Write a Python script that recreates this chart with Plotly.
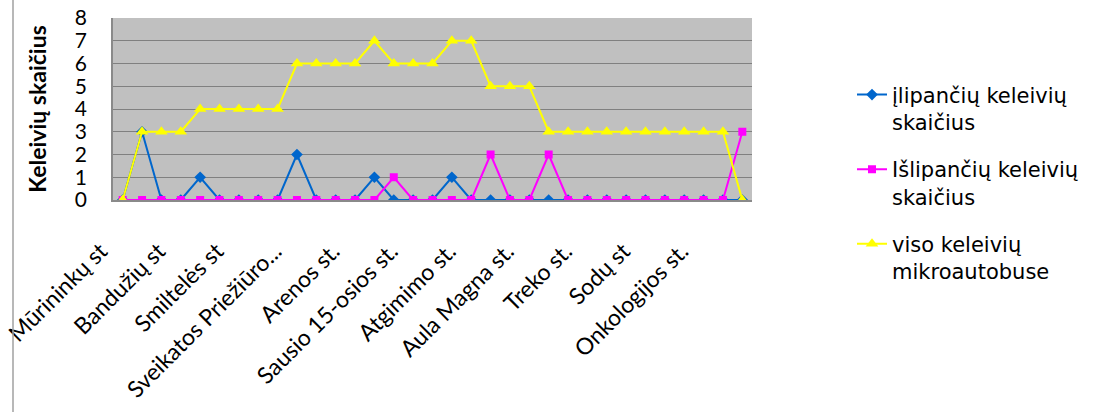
import plotly.graph_objects as go

# 33 stops along the route; only every 3rd stop is labelled on the axis
stop_index = list(range(1, 34))
stop_labels = ["Mūrininkų st", "Bandužių st", "Smiltelės st", "Sveikatos Priežiūro...",
               "Arenos st.", "Sausio 15-osios st.", "Atgimimo st.", "Aula Magna st.",
               "Treko st.", "Sodų st", "Onkologijos st."]
label_positions = stop_index[::3]

boarding = [0, 3, 0, 0, 1, 0, 0, 0, 0, 2, 0, 0, 0, 1, 0, 0, 0, 1, 0, 0, 0, 0, 0,
            0, 0, 0, 0, 0, 0, 0, 0, 0, 0]
alighting = [0, 0, 0, 0, 0, 0, 0, 0, 0, 0, 0, 0, 0, 0, 1, 0, 0, 0, 0, 2, 0, 0, 2,
             0, 0, 0, 0, 0, 0, 0, 0, 0, 3]
total = [0, 3, 3, 3, 4, 4, 4, 4, 4, 6, 6, 6, 6, 7, 6, 6, 6, 7, 7, 5, 5, 5, 3,
         3, 3, 3, 3, 3, 3, 3, 3, 3, 0]

names = ["įlipančių keleivių<br>skaičius", "Išlipančių keleivių<br>skaičius",
         "viso keleivių<br>mikroautobuse"]

FONT = "Lato, Open Sans, sans-serif"
LEG_FONT = "DejaVu Sans, sans-serif"

fig = go.Figure()
fig.add_trace(go.Scatter(x=stop_index, y=boarding, mode="lines+markers", name=names[0],
                         line=dict(color="#0066CC", width=2),
                         marker=dict(symbol="diamond", size=9, color="#0066CC"),
                         legendgroup="a"))
fig.add_trace(go.Scatter(x=stop_index, y=alighting, mode="lines+markers", name=names[1],
                         line=dict(color="#FF00FF", width=2),
                         marker=dict(symbol="square", size=8, color="#FF00FF"),
                         legendgroup="b"))
fig.add_trace(go.Scatter(x=stop_index, y=total, mode="lines+markers", name=names[2],
                         line=dict(color="#FFFF00", width=2),
                         marker=dict(symbol="triangle-up", size=11, color="#FFFF00"),
                         legendgroup="c"))

fig.update_layout(
    width=1101, height=412,
    margin=dict(l=113, r=349, t=18, b=212, autoexpand=False),
    paper_bgcolor="white",
    plot_bgcolor="#C0C0C0",
    font=dict(family=FONT, color="black", size=19),
    legend=dict(x=1.1565, y=0.69, xanchor="left", yanchor="top", valign="top",
                font=dict(size=21, family=LEG_FONT), tracegroupgap=17,
                bgcolor="rgba(0,0,0,0)", maxheight=400),
    xaxis=dict(range=[0.5, 33.5], tickmode="array", tickvals=label_positions,
               ticktext=stop_labels, tickangle=-45, showgrid=False, zeroline=False,
               ticks="", ticklabelstandoff=27, ticklabelshift=-22, automargin=False,
               ticklabeloverflow="allow",
               tickfont=dict(size=23, family=FONT),
               showline=True, linecolor="#8A8A8A", linewidth=1.5),
    yaxis=dict(range=[0, 8], dtick=1, showgrid=True, gridcolor="#808080", gridwidth=1,
               zeroline=False, ticks="", ticklabelstandoff=20, automargin=False,
               ticklabeloverflow="allow",
               tickfont=dict(size=21, family=FONT),
               title=dict(text="<b>Keleivių skaičius</b>", font=dict(size=23, family=FONT),
                          standoff=22),
               showline=True, linecolor="#8A8A8A", linewidth=1.5),
)

fig.add_shape(type="line", xref="paper", yref="paper",
              x0=(13 - 113) / 639, x1=(13 - 113) / 639, y0=-212 / 182, y1=1 + 18 / 182,
              line=dict(color="#A0A0A0", width=1.5))

fig.write_html("out.html", config={"displayModeBar": False},
               post_script="document.body.style.margin='0';document.body.style.overflow='hidden';")
